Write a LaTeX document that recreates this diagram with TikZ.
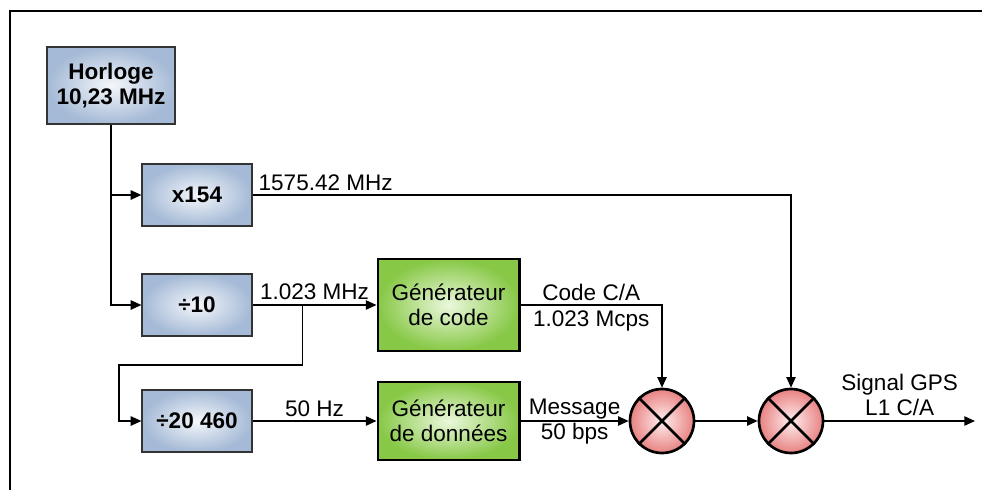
\documentclass[tikz,border=0pt]{standalone}
\usepackage{fontspec}
\setmainfont{Liberation Sans}
\usetikzlibrary{arrows.meta}

\definecolor{bleuout}{RGB}{165,186,214}
\definecolor{bleuin}{RGB}{244,247,251}
\definecolor{vertout}{RGB}{135,200,70}
\definecolor{vertin}{RGB}{235,248,220}
\definecolor{roseout}{RGB}{232,130,130}
\definecolor{rosein}{RGB}{255,238,238}

\begin{document}
\begin{tikzpicture}[x=0.75pt,y=-0.75pt,>={Triangle[length=8pt,width=7pt]},
		line width=1.1pt,font=\fontsize{16.9}{19.2}\selectfont,
		bloc/.style={draw=black!80,line width=1.4pt,shading=radial,inner color=bleuin,
			outer color=bleuout,font=\fontsize{16.9}{19.2}\selectfont\bfseries,align=center,
			minimum width=82pt,minimum height=47pt,inner sep=0pt},
		gen/.style={draw=black,line width=2pt,shading=radial,inner color=vertin,
			outer color=vertout,align=center,minimum width=106pt,inner sep=0pt},
		mix/.style={circle,draw=black,line width=2pt,shading=radial,inner color=rosein,
			outer color=roseout,minimum size=48pt,inner sep=0pt}]
	\useasboundingbox (0,0) rectangle (982,490);
	\draw[line width=1.8pt] (10,490) |- (982,11);

	\node[bloc,minimum width=96pt,minimum height=58pt] (horloge) at (111,85.5) {Horloge\\10,23 MHz};
	\node[bloc] (mult) at (197,195) {x154};
	\node[bloc] (div10) at (197,305) {÷10};
	\node[bloc] (div20) at (197,421) {÷20 460};
	\node[gen,minimum height=69pt] (gencode) at (448.5,305) {Générateur\\de code};
	\node[gen,minimum height=58.5pt] (gendata) at (448.5,421) {Générateur\\de données};
	\node[mix] (mixA) at (662,421) {};
	\node[mix] (mixB) at (791,421) {};
	\foreach \m in {mixA,mixB}
		\draw[line width=2pt] (\m.45) -- (\m.225) (\m.135) -- (\m.315);

	\coordinate (tap) at (302.7,305);
	\coordinate (coude) at (119,365);
	\coordinate (out) at (975,421);

	% horloge et diviseurs
	\draw[->] (horloge.south) |- (div10.west);
	\draw[->] (horloge.south |- mult.west) -- (mult.west);
	\draw[->] (mult.east) -| node[pos=0,anchor=south west,inner sep=3pt,xshift=1pt] {1575.42 MHz} (mixB.north);
	\draw[->] (div10.east) -- node[above] {1.023 MHz} (gencode.west);
	\draw[->] (tap) |- (coude) |- (div20.west);
	\draw[->] (div20.east) -- node[above,inner sep=3pt] {50 Hz} (gendata.west);

	% modulation
	\draw[->] (gencode.east) -| node[pos=0.25,above,inner sep=3pt] {Code C/A}
		node[pos=0.25,below,inner sep=4pt] {1.023 Mcps} (mixA.north);
	\draw[->] (gendata.east) -- node[above,inner sep=1pt] {Message}
		node[below,inner sep=1pt] {50 bps} (mixA.west);
	\draw[->] (mixA.east) -- (mixB.west);
	\draw[->] (mixB.east) -- node[above,align=center] {Signal GPS\\L1 C/A} (out);
\end{tikzpicture}
\end{document}
